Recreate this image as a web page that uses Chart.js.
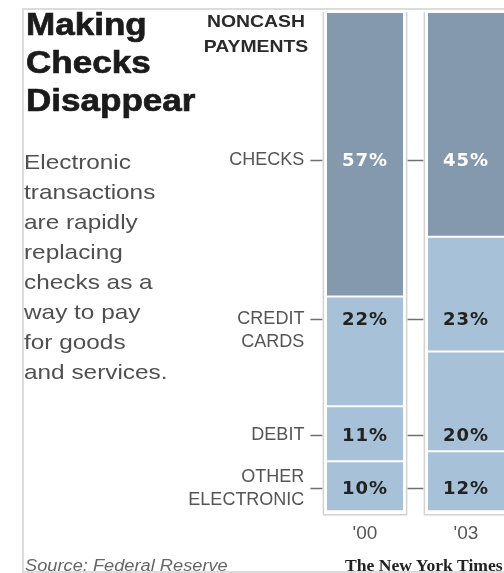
<!DOCTYPE html>
<html>
<head>
<meta charset="utf-8">
<script src="https://cdn.jsdelivr.net/npm/chart.js@4/dist/chart.umd.min.js"></script>
<style>
  html, body { margin: 0; padding: 0; width: 504px; height: 573px; overflow: hidden; background: #fff; }
  #wrap { position: relative; width: 504px; height: 573px; overflow: hidden; }
  #frame { position: absolute; left: 22px; top: 8px; width: 500px; height: 561px;
           border-top: 2px solid #dcdcdc; border-left: 2px solid #dcdcdc; border-bottom: 2px solid #dcdcdc; }
  canvas { position: absolute; left: 0; top: 0; }
  .txt { position: absolute; white-space: pre; transform-origin: 0 0; }
  #title { left: 26px; top: 6px; font: bold 31px/38px "Liberation Sans", sans-serif; color: #1b1b1b;
           -webkit-text-stroke: 0.7px #1b1b1b; transform: scaleX(1.13); }
  #kicker { left: 196px; top: 9px; width: 120px; text-align: center; transform-origin: 50% 0;
            font: bold 17px/25px "Liberation Sans", sans-serif; color: #2a2a2a; transform: scaleX(1.14); }
  #blurb { left: 24px; top: 147px; font: 21px/30px "Liberation Sans", sans-serif; color: #505050;
           transform: scaleX(1.16); }
  #source { left: 25px; top: 556px; font: italic 16px/20px "Liberation Sans", sans-serif; color: #666;
            transform: scaleX(1.14); }
  #credit { left: 345px; top: 556px; font: bold 16px/20px "Liberation Serif", serif; color: #222;
            transform: scaleX(1.1); }
</style>
</head>
<body>
<div id="wrap">
  <div id="frame"></div>
  <canvas id="chart" width="540" height="573"></canvas>
  <div class="txt" id="title">Making
Checks
Disappear</div>
  <div class="txt" id="kicker">NONCASH
PAYMENTS</div>
  <div class="txt" id="blurb">Electronic
transactions
are rapidly
replacing
checks as a
way to pay
for goods
and services.</div>
  <div class="txt" id="source">Source: Federal Reserve</div>
  <div class="txt" id="credit">The New York Times</div>
</div>
<script>
// share of noncash payments, top segment first
const years = ["'00", "'03"];
const categories = [['CHECKS'], ['CREDIT', 'CARDS'], ['DEBIT'], ['OTHER', 'ELECTRONIC']];
const checks = [57, 45];
const creditCards = [22, 23];
const debit = [11, 20];
const otherElectronic = [10, 12];

const series = [checks, creditCards, debit, otherElectronic];
const fills = ['#8499ad', '#a7c2d8', '#a7c2d8', '#a7c2d8'];

// label rows sit at fixed heights on the y scale, not segment centres
const rowLevel = [70.3, 38.6, 15.3, 4.6];
const rowAnchor = [0, 0, 0, 0.5];

const rowLabels = {
  id: 'rowLabels',
  afterDatasetsDraw(chart) {
    const { ctx, chartArea, scales: { y } } = chart;
    const bars = chart.getDatasetMeta(0).data;
    const zero = y.getPixelForValue(0);
    const bounds = bars.map(b => ({ cx: b.x, l: b.x - b.width / 2 - 3.5, r: b.x + b.width / 2 + 3.5 }));

    ctx.save();
    // thin frame round each column
    ctx.strokeStyle = '#d2d2d2';
    ctx.lineWidth = 1.5;
    bounds.forEach(b => {
      ctx.beginPath();
      ctx.moveTo(b.l, chartArea.top);
      ctx.lineTo(b.l, zero + 3.5);
      ctx.lineTo(b.r, zero + 3.5);
      ctx.lineTo(b.r, chartArea.top);
      ctx.stroke();
    });

    categories.forEach((lines, i) => {
      const yy = Math.round(y.getPixelForValue(rowLevel[i])) + 0.5;

      ctx.strokeStyle = '#707070';
      ctx.lineWidth = 1.6;
      ctx.beginPath();
      ctx.moveTo(bounds[0].l - 13, yy);
      ctx.lineTo(bounds[0].l - 1, yy);
      for (let k = 1; k < bounds.length; k++) {
        ctx.moveTo(bounds[k - 1].r + 1, yy);
        ctx.lineTo(bounds[k].l - 1, yy);
      }
      ctx.stroke();

      ctx.font = '18px "Liberation Sans"';
      ctx.fillStyle = '#555';
      ctx.textAlign = 'right';
      ctx.textBaseline = 'middle';
      const lh = 23;
      lines.forEach((t, n) => {
        ctx.fillText(t, bounds[0].l - 19, yy + (n - rowAnchor[i]) * lh);
      });

      ctx.font = 'bold 18px "DejaVu Sans"';
      ctx.letterSpacing = '1px';
      ctx.textAlign = 'center';
      ctx.fillStyle = i === 0 ? '#ffffff' : '#222222';
      bounds.forEach((b, j) => {
        ctx.fillText(series[i][j] + '%', b.cx, yy + 1);
      });
      ctx.letterSpacing = '0px';
    });
    ctx.restore();
  }
};

// stack from the bottom up
const datasets = series.map((data, i) => ({
  label: categories[i].join(' '),
  data: data,
  backgroundColor: fills[i],
  borderColor: '#ffffff',
  borderWidth: { top: 1, bottom: 1, left: 0, right: 0 },
  borderSkipped: false,
  categoryPercentage: 1,
  barPercentage: 0.755
})).reverse();

new Chart(document.getElementById('chart'), {
  type: 'bar',
  data: { labels: years, datasets: datasets },
  options: {
    responsive: false,
    animation: false,
    devicePixelRatio: 1,
    layout: { padding: { left: 314.5, right: 23.5, top: 12, bottom: 17 } },
    plugins: { legend: { display: false }, tooltip: { enabled: false } },
    scales: {
      x: {
        stacked: true,
        grid: { display: false, drawTicks: false },
        border: { display: false },
        ticks: { color: '#555', padding: 11, font: { family: 'Liberation Sans', size: 19 } }
      },
      y: { stacked: true, display: false, min: 0, max: 100 }
    }
  },
  plugins: [rowLabels]
});
</script>
</body>
</html>
